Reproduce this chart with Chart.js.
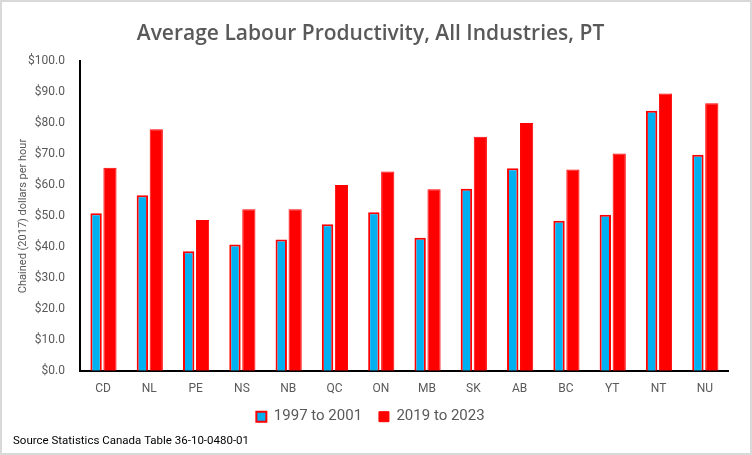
<!DOCTYPE html>
<html>
<head>
<meta charset="utf-8">
<script src="https://cdn.jsdelivr.net/npm/chart.js@4.4.1/dist/chart.umd.min.js"></script>
<style>
  html, body { margin: 0; padding: 0; background: #fff; }
  #wrap { width: 752px; height: 455px; box-sizing: border-box; border: 2px solid #d9d9d9; }
</style>
</head>
<body>
<div id="wrap"><canvas id="chart"></canvas></div>
<script>
// provinces / territories
const regions = ['CD', 'NL', 'PE', 'NS', 'NB', 'QC', 'ON', 'MB', 'SK', 'AB', 'BC', 'YT', 'NT', 'NU'];

// chained (2017) dollars per hour
const early = [50.9, 56.7, 38.6, 40.8, 42.4, 47.3, 51.2, 43.0, 58.8, 65.4, 48.5, 50.4, 84.0, 69.8];
const recent = [65.6, 78.0, 48.7, 52.2, 52.2, 60.0, 64.4, 58.6, 75.6, 80.0, 65.0, 70.2, 89.6, 86.4];

const yTitle = 'Chained (2017) dollars per hour';

const grey = '#595959';
const font = "Roboto, 'Liberation Sans', sans-serif";

// y axis title drawn by hand so it can sit close to the tick labels
const yTitlePlugin = {
    id: 'yTitle',
    afterDraw(chart) {
        const c = chart.ctx;
        const area = chart.chartArea;
        c.save();
        c.translate(21, (area.top + area.bottom) / 2);
        c.rotate(-Math.PI / 2);
        c.fillStyle = grey;
        c.font = '11px ' + font;
        c.textAlign = 'center';
        c.textBaseline = 'middle';
        c.fillText(yTitle, 0, 0);
        c.restore();
    }
};

const ctx = document.getElementById('chart').getContext('2d');
new Chart(ctx, {
    type: 'bar',
    data: {
        labels: regions,
        datasets: [
            {
                label: '1997 to 2001',
                data: early,
                backgroundColor: '#00B0F0',
                borderColor: '#FF0000',
                borderWidth: 2,
                barPercentage: 0.82
            },
            {
                label: '2019 to 2023',
                data: recent,
                backgroundColor: '#FF0000',
                borderColor: '#FF0000',
                borderWidth: 1,
                barPercentage: 0.95
            }
        ]
    },
    options: {
        responsive: true,
        maintainAspectRatio: false,
        animation: false,
        categoryPercentage: 0.6,
        layout: { padding: { left: 11, right: 22, top: 13, bottom: 1 } },
        plugins: {
            title: {
                display: true,
                text: 'Average Labour Productivity, All Industries, PT',
                color: grey,
                font: { family: "'Open Sans', sans-serif", size: 21, weight: '600' },
                padding: { top: 6, bottom: 15 }
            },
            legend: {
                position: 'bottom',
                labels: {
                    color: grey,
                    font: { family: font, size: 15 },
                    boxWidth: 10,
                    boxHeight: 10,
                    padding: 2,
                    // wider gap between the two entries
                    generateLabels: chart => Chart.defaults.plugins.legend.labels.generateLabels(chart)
                        .map((l, i) => Object.assign(l, { text: i === 0 ? l.text + '    ' : l.text }))
                }
            },
            subtitle: {
                display: true,
                position: 'bottom',
                align: 'start',
                text: 'Source Statistics Canada Table 36-10-0480-01',
                color: '#000',
                font: { family: font, size: 11.5 },
                padding: { top: 0, bottom: 4 }
            },
            tooltip: { enabled: false }
        },
        scales: {
            x: {
                grid: { display: false, drawTicks: false },
                border: { display: true, color: '#000', width: 2 },
                ticks: { color: grey, font: { family: font, size: 12 }, padding: 11 }
            },
            y: {
                min: 0,
                max: 100,
                grid: { display: false, drawTicks: false },
                border: { display: true, color: '#000', width: 2 },
                ticks: {
                    stepSize: 10,
                    color: grey,
                    font: { family: font, size: 12 },
                    padding: 15,
                    callback: v => '$' + v.toFixed(1)
                }
            }
        }
    },
    plugins: [yTitlePlugin]
});
</script>
</body>
</html>
